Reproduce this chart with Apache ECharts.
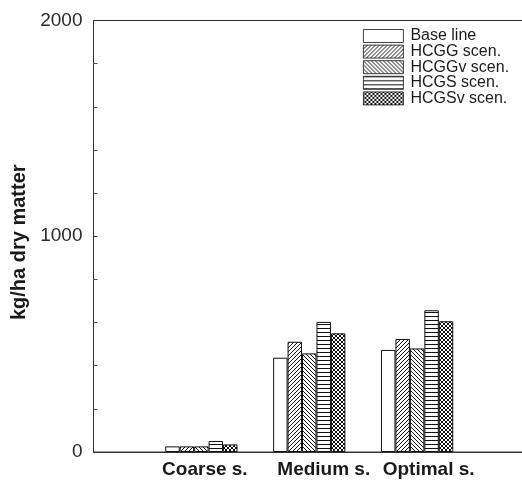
<!DOCTYPE html>
<html>
<head>
<meta charset="utf-8">
<script src="https://cdn.jsdelivr.net/npm/echarts@6/dist/echarts.min.js"></script>
<style>
html,body{margin:0;padding:0;background:#fff;}
#c{width:522px;height:483px;}
</style>
</head>
<body>
<div id="c"></div>
<script>
// ---- data ----
const categories = ['', 'Coarse s.', 'Medium s.', 'Optimal s.', ''];
const seriesNames = ['Base line', 'HCGG scen.', 'HCGGv scen.', 'HCGS scen.', 'HCGSv scen.'];
const baseLine = [null, 26, 437, 473, null];
const hcgg     = [null, 26, 511, 524, null];
const hcggv    = [null, 26, 457, 480, null];
const hcgs     = [null, 51, 603, 657, null];
const hcgsv    = [null, 35, 550, 606, null];
const yTicks = [0, 1000, 2000];

// ---- patterns ----
function tile(w, h, draw) {
  const c = document.createElement('canvas');
  c.width = w; c.height = h;
  const g = c.getContext('2d');
  g.fillStyle = '#fff'; g.fillRect(0, 0, w, h);
  g.fillStyle = '#111';
  draw(g);
  return { image: c, repeat: 'repeat' };
}
const pWhite = '#ffffff';
const pSlash = tile(4, 4, g => { for (let i = 0; i < 4; i++) g.fillRect(i, 3 - i, 1, 1); });
const pBack = tile(4, 4, g => { for (let i = 0; i < 4; i++) g.fillRect(i, i, 1, 1); });
const pHoriz = tile(4, 4, g => { g.fillRect(0, 0, 4, 1); });
const pCross = tile(4, 4, g => { for (let i = 0; i < 4; i++) { g.fillRect(i, i, 1, 1); g.fillRect(i, 3 - i, 1, 1); } });
const fills = [pWhite, pSlash, pBack, pHoriz, pCross];
const values = [baseLine, hcgg, hcggv, hcgs, hcgsv];

const labelPad = { 'Coarse s.': 7, 'Medium s.': 29, 'Optimal s.': 23 };
const richKeys = { 'Coarse s.': 'a', 'Medium s.': 'b', 'Optimal s.': 'c' };
const labelFont = { fontFamily: 'Liberation Sans', fontWeight: 'bold', fontSize: 19, color: '#1a1a1a' };

const chart = echarts.init(document.getElementById('c'), null, { renderer: 'canvas' });
chart.setOption({
  animation: false,
  backgroundColor: '#fff',
  grid: { left: 93.5, right: -3, top: 20.5, bottom: 31, outerBoundsMode: 'none', containLabel: false,
          show: true, borderColor: '#333', borderWidth: 1, backgroundColor: 'transparent' },
  legend: {
    orient: 'vertical', left: 358, top: 23,
    itemWidth: 40, itemHeight: 13, itemGap: -0.4,
    icon: 'rect',
    itemStyle: { borderWidth: 0.8 },
    textStyle: { fontFamily: 'Liberation Sans', fontSize: 16, color: '#1a1a1a', lineHeight: 14, padding: [0, 0, 0, 2] },
    data: seriesNames
  },
  xAxis: {
    type: 'category', data: categories, boundaryGap: false,
    axisLine: { lineStyle: { color: '#333', width: 1 } },
    axisTick: { show: false },
    axisLabel: {
      interval: 0, margin: 8,
      formatter: v => v ? '{' + richKeys[v] + '|' + v + '}' : '',
      rich: {
        a: Object.assign({ padding: [0, 0, 0, labelPad['Coarse s.']] }, labelFont),
        b: Object.assign({ padding: [0, 0, 0, labelPad['Medium s.']] }, labelFont),
        c: Object.assign({ padding: [0, 0, 0, labelPad['Optimal s.']] }, labelFont)
      }
    },
    splitLine: { show: false }
  },
  yAxis: {
    type: 'value', min: yTicks[0], max: yTicks[yTicks.length - 1], interval: 1000,
    name: 'kg/ha dry matter', nameLocation: 'middle', nameGap: 58,
    nameTextStyle: { fontFamily: 'Liberation Sans', fontWeight: 'bold', fontSize: 20, color: '#1a1a1a', padding: [0, 12, 0, 0] },
    axisLine: { show: true, lineStyle: { color: '#333', width: 1 } },
    axisTick: { show: true, inside: true, length: 4, lineStyle: { color: '#333' } },
    minorTick: { show: true, splitNumber: 5, length: 4, lineStyle: { color: '#555' } },
    axisLabel: { margin: 11, fontFamily: 'Liberation Sans', fontSize: 19, color: '#2a2a2a', formatter: v => String(v) },
    splitLine: { show: false }
  },
  series: seriesNames.map((n, i) => ({
    name: n, type: 'bar', data: values[i],
    barGap: '0%', barCategoryGap: '33%',
    itemStyle: { color: fills[i], borderColor: '#111', borderWidth: 1 }
  }))
});
</script>
</body>
</html>
